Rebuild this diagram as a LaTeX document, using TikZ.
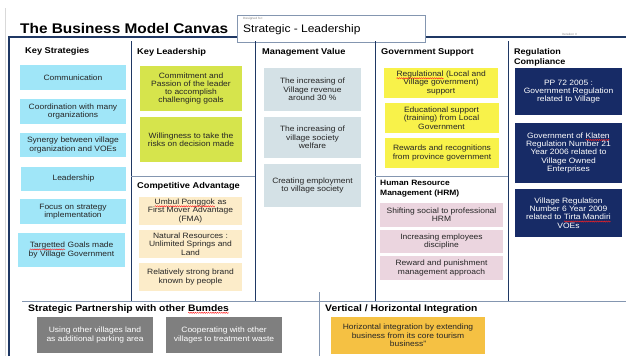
\documentclass[tikz,border=0pt]{standalone}
\usepackage{fontspec}
\setmainfont[FakeStretch=1.1]{Liberation Sans}
\usetikzlibrary{decorations.pathmorphing}
\definecolor{framec}{HTML}{1F3864}
\definecolor{divc}{HTML}{8496B0}
\definecolor{cyanbox}{HTML}{A0E6F8}
\definecolor{limebox}{HTML}{D6E44C}
\definecolor{beigebox}{HTML}{FCECC9}
\definecolor{mgmtbox}{HTML}{D4E1E6}
\definecolor{yellowbox}{HTML}{F8F24A}
\definecolor{pinkbox}{HTML}{EBD5DF}
\definecolor{navybox}{HTML}{172B66}
\definecolor{graybox}{HTML}{7F7F7F}
\definecolor{orangebox}{HTML}{F5C143}
\definecolor{squigc}{HTML}{FF2020}
\newcommand\sq[1]{\tikz[baseline=(sqw.base)]{\node[inner sep=0pt,outer sep=0pt,fill=none,draw=none,minimum width=0pt,minimum height=0pt,text width={},anchor=base](sqw) at (0,0){#1};\draw[squigc,fill=none,line width=0.45pt,decorate,decoration={snake,amplitude=0.6pt,segment length=2.2pt}]([yshift=-1.6pt]sqw.base west)--([yshift=-1.6pt]sqw.base east);}}
\tikzset{
  card/.style={inner sep=1pt, align=center, font=\fontsize{7.7}{8.3}\selectfont, text=black!85},
  hdr/.style={anchor=west, inner sep=0pt, align=left, font=\bfseries\fontsize{8.4}{10}\selectfont, text=black},
  bighdr/.style={anchor=west, inner sep=0pt, font=\bfseries\fontsize{9.4}{11}\selectfont, text=black},
  frameline/.style={framec, line width=1.8pt},
  colline/.style={framec, line width=0.8pt},
  divline/.style={divc, line width=0.8pt},
}
\begin{document}
\begin{tikzpicture}[x=1pt,y=-1pt]
\useasboundingbox (0,0) rectangle (626,356);
\fill[white] (0,0) rectangle (626,356);
% outer frame
\draw[black!15, line width=1pt] (5,8) -- (5,356);
\draw[frameline] (9,356) -- (9,37) -- (626,37);
% title
\node[anchor=base west, inner sep=0pt, font=\bfseries\fontsize{14}{16}\selectfont] (title) at (20,33) {The Business Model Canvas};
\node[draw=divc, line width=0.6pt, fill=white, minimum width=188pt, minimum height=27pt, inner sep=0pt] (design) at (331,28.5) {};
\node[anchor=west, inner sep=0pt, font=\fontsize{3}{3}\selectfont, text=black!50] (designlbl) at (243,19) {Designed for:};
\node[anchor=west, inner sep=0pt, font=\fontsize{10.9}{12}\selectfont] (designtxt) at (243,29.5) {Strategic - Leadership};
\node[anchor=west, inner sep=0pt, font=\fontsize{3}{3}\selectfont, text=black!45] (iter) at (562,34) {Iteration \#};
% column lines
\draw[colline] (131,41) -- (131,301);
\draw[colline] (255,41) -- (255,301);
\draw[colline] (375,41) -- (375,301);
\draw[colline] (508,41) -- (508,301);
\draw[divline] (131,176) -- (255,176);
\draw[divline] (375,176) -- (508,176);
\draw[divline] (22,301) -- (626,301);
\draw[divline] (319,292) -- (319,356);
% headers
\node[hdr] (hks) at (25,51.5) {Key Strategies};
\node[hdr] (hkl) at (137,52) {Key Leadership};
\node[hdr] (hmv) at (262,52) {Management Value};
\node[hdr] (hgs) at (381,52.5) {Government Support};
\node[hdr, font=\bfseries\fontsize{8.2}{9.8}\selectfont] (hrc) at (514,57) {Regulation\\Compliance};
\node[hdr] (hca) at (137,186) {Competitive Advantage};
\node[hdr, font=\bfseries\fontsize{7.7}{9.8}\selectfont] (hhr) at (380,189) {Human Resource\\Management (HRM)};
\node[bighdr] (hsp) at (28,309) {Strategic Partnership with other \sq{Bumdes}};
\node[bighdr] (hvh) at (325,309) {Vertical / Horizontal Integration};
% Key Strategies
\tikzset{ks/.style={card, fill=cyanbox, minimum width=106pt}}
\node[ks, minimum height=25pt] (k1) at (73,77.5) {Communication};
\node[ks, minimum height=25pt] (k2) at (73,111.5) {Coordination with many\\organizations};
\node[ks, minimum height=24pt] (k3) at (73,145) {Synergy between village\\organization and VOEs};
\node[ks, minimum height=24pt, minimum width=105pt] (k4) at (73.5,179) {Leadership};
\node[ks, minimum height=25pt] (k5) at (73,211.5) {Focus on strategy\\implementation};
\node[ks, minimum height=34pt, minimum width=107pt] (k6) at (71.5,250) {\sq{Targetted} Goals made\\by Village Government};
% Key Leadership
\tikzset{kl/.style={card, fill=limebox, minimum width=102pt, minimum height=45pt}}
\node[kl] (l1) at (191,88.5) {Commitment and\\Passion of the leader\\to accomplish\\challenging goals};
\node[kl] (l2) at (191,139.5) {Willingness to take the\\risks on decision made};
% Competitive Advantage
\tikzset{ca/.style={card, fill=beigebox, minimum width=103pt, minimum height=28pt}}
\node[ca] (c1) at (190.5,211) {\sq{Umbul Ponggok} as\\First Mover Advantage\\(FMA)};
\node[ca] (c2) at (190.5,244) {Natural Resources :\\Unlimited Springs and\\Land};
\node[ca] (c3) at (190.5,277) {Relatively strong brand\\known by people};
% Management Value
\tikzset{mv/.style={card, fill=mgmtbox, minimum width=97pt}}
\node[mv, minimum height=43pt] (m1) at (312.5,89.5) {The increasing of\\Village revenue\\around 30 \%};
\node[mv, minimum height=41pt] (m2) at (312.5,137.5) {The increasing of\\village society\\welfare};
\node[mv, minimum height=43pt] (m3) at (312.5,185.5) {Creating employment\\to village society};
% Government Support
\tikzset{gs/.style={card, fill=yellowbox, minimum width=114pt, minimum height=30pt}}
\node[gs] (g1) at (441,83) {\sq{Regulational} (Local and\\Village government)\\support};
\node[gs] (g2) at (441.5,118) {Educational support\\(training) from Local\\Government};
\node[gs] (g3) at (442,153) {Rewards and recognitions\\from province government};
% HRM
\tikzset{hr/.style={card, fill=pinkbox, minimum width=123pt}}
\node[hr, minimum height=24pt] (h1) at (441.5,215) {Shifting social to professional\\HRM};
\node[hr, minimum height=23pt] (h2) at (441.5,241.5) {Increasing employees\\discipline};
\node[hr, minimum height=24pt] (h3) at (441.5,268) {Reward and punishment\\management approach};
% Regulation Compliance
\tikzset{rc/.style={card, fill=navybox, text=white, minimum width=107pt}}
\node[rc, minimum height=47pt] (r1) at (568.5,91.5) {PP 72 2005 :\\Government Regulation\\related to Village};
\node[rc, minimum height=60pt] (r2) at (568.5,153) {Government of \sq{Klaten}\\Regulation Number 21\\Year 2006 related to\\Village Owned\\Enterprises};
\node[rc, minimum height=48pt] (r3) at (568.5,213) {Village Regulation\\Number 6 Year 2009\\related to \sq{Tirta Mandiri}\\VOEs};
% Strategic Partnership
\tikzset{sp/.style={card, fill=graybox, text=white, minimum width=116pt, minimum height=36pt}}
\node[sp] (s1) at (95,335) {Using other villages land\\as additional parking area};
\node[sp] (s2) at (224,335) {Cooperating with other\\villages to treatment waste};
% Vertical / Horizontal Integration
\node[card, fill=orangebox, minimum width=154pt, minimum height=37pt] (v1) at (408,335.5) {Horizontal integration by extending\\business from its core tourism\\business\textquotedblright};
\end{tikzpicture}
\end{document}
